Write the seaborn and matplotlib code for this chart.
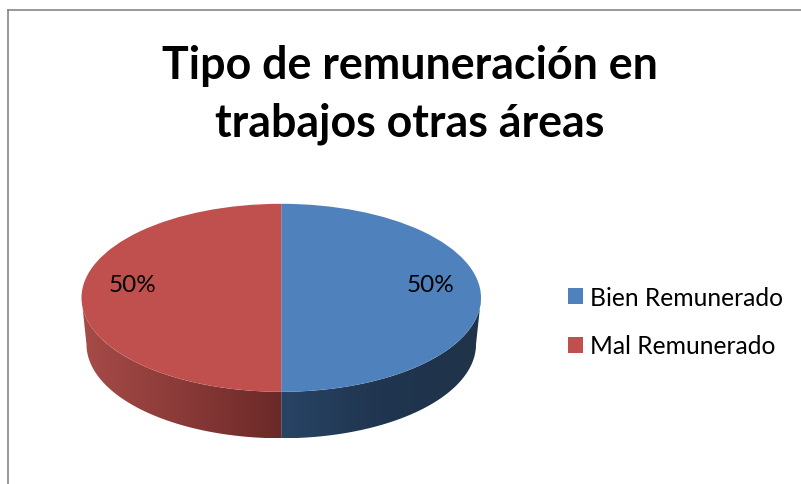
import numpy as np
import matplotlib.pyplot as plt
import seaborn as sns
from matplotlib.colors import LinearSegmentedColormap
from matplotlib.patches import Patch, Polygon

categories = ["Bien Remunerado", "Mal Remunerado"]
shares = [50, 50]
title = "Tipo de remuneración en\ntrabajos otras áreas"

top_colors = ["#4f81bd", "#c0504d"]
wall_colors = [["#284465", "#20354f", "#1f3349"], ["#a64b48", "#8a3a38", "#6a2928"]]

W, H = 801, 485
DEPTH = 46.5 / 94  # wall height, in units of the vertical radius

sns.set_theme(style="white")
plt.rcParams["font.family"] = ["Lato", "DejaVu Sans"]

fig = plt.figure(figsize=(W / 100, H / 100), dpi=100)
fig.patch.set_facecolor("white")

# chart frame, only left and top are inside the picture
frame = fig.add_axes([8 / W, 0, 1, (H - 11) / H])
frame.set(xticks=[], yticks=[])
sns.despine(ax=frame, top=False, right=True, left=False, bottom=True)
for side in ["left", "top"]:
    frame.spines[side].set_color("#868686")
    frame.spines[side].set_linewidth(1.2)

# pie axes, stretched so the circle reads as a tilted disc
ax = fig.add_axes([81.5 / W, (H - 439.3) / H, 399.5 / W, 234.5 / H])
ax.patch.set_alpha(0)


def side_wall(ax, start, end, colors):
    """Draw the visible part of a wedge's wall, shaded from left to right"""
    a = np.radians(np.linspace(max(start, 180), min(end, 360), 90))
    if len(a) == 0 or a[0] >= a[-1]:
        return
    top = np.column_stack([np.cos(a), np.sin(a)])
    bottom = np.column_stack([0.975 * np.cos(a), np.sin(a) - DEPTH])
    poly = Polygon(np.vstack([top, bottom[::-1]]), closed=True, transform=ax.transData,
                   facecolor="none", edgecolor="none")
    ax.add_patch(poly)
    cmap = LinearSegmentedColormap.from_list("wall", colors)
    grad = np.linspace(0, 1, 256).reshape(1, -1)
    img = ax.imshow(grad, cmap=cmap, aspect="auto", interpolation="bilinear",
                    extent=[top[:, 0].min(), top[:, 0].max(), -1 - DEPTH, 0.2])
    img.set_clip_path(poly)


# wedges run clockwise from 12 o'clock, convert to math angles for the walls
edges = 90 - 360 * np.cumsum([0] + shares) / sum(shares)
for i in range(len(shares)):
    lo, hi = edges[i + 1] % 360, edges[i] % 360
    if hi <= lo:
        hi += 360
    if hi > 360 and lo < 360:
        # blue wedge crosses 0 degrees, its wall is the 270-360 part
        side_wall(ax, lo, 360, wall_colors[i])
    else:
        side_wall(ax, lo, hi, wall_colors[i])

wedges, _, pct = ax.pie(shares, colors=top_colors, startangle=90, counterclock=False,
                        autopct="%1.0f%%", pctdistance=0.745,
                        wedgeprops={"linewidth": 0})
for t in pct:
    t.set_fontsize(17.5)
    t.set_color("black")
    t.set_y(0.14)

ax.set_aspect("auto")
ax.set_xlim(-1, 1)
ax.set_ylim(-1 - DEPTH, 1)
ax.axis("off")

fig.text(409.5 / W, 1 - 95 / H, title, ha="center", va="center", fontsize=32.2,
         fontweight="bold", color="black", linespacing=1.47)

handles = [Patch(facecolor=c, edgecolor="none") for c in top_colors]
fig.legend(handles, categories, loc="center left", bbox_to_anchor=(568 / W, 1 - 322.5 / H),
           frameon=False, fontsize=17.7, handlelength=0.61, handleheight=0.61,
           handletextpad=0.29, labelspacing=1.05, borderpad=0, borderaxespad=0,
           labelcolor="black")

fig.savefig("out.png", dpi=100)
plt.close(fig)
print("saved out.png")
